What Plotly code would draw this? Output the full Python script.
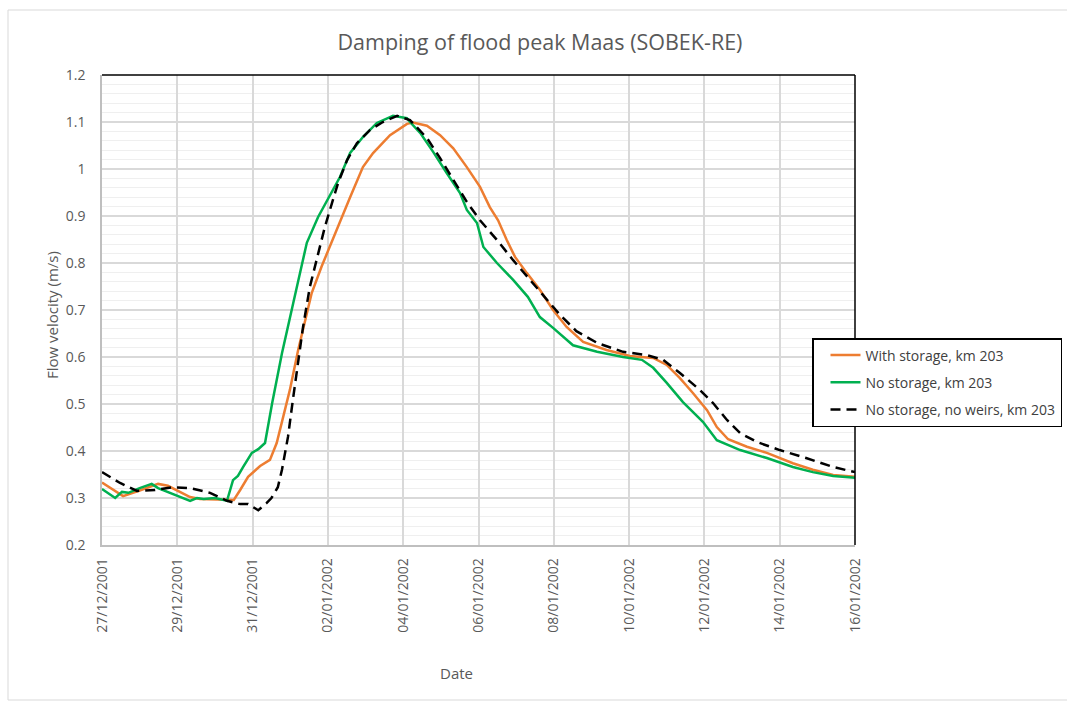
import pandas as pd
import plotly.graph_objects as go

# Flow velocity at km 203 on the Maas, SOBEK-RE runs.
# Times are given in days after 27/12/2001 00:00.
start = pd.Timestamp("2001-12-27 00:00")

storage_days = [0, 0.56, 1.0, 1.49, 1.75, 2.34, 2.6, 3.2, 3.5, 3.67, 3.88, 4.2, 4.46, 4.64,
                4.81, 4.99, 5.21, 5.39, 5.57, 5.83, 6.1, 6.32, 6.59, 6.93, 7.2, 7.65, 8.1,
                8.26, 8.63, 8.98, 9.33, 9.69, 10.04, 10.3, 10.52, 10.75, 10.97, 11.28, 11.63,
                11.98, 12.34, 12.78, 13.4, 14.02, 14.64, 15.0, 15.35, 15.7, 16.07, 16.33,
                16.63, 17.13, 17.66, 18.35, 18.88, 19.42, 20]
storage_vel = [0.333, 0.304, 0.316, 0.330, 0.326, 0.302, 0.298, 0.296, 0.296, 0.317, 0.345,
               0.368, 0.381, 0.417, 0.472, 0.530, 0.615, 0.679, 0.736, 0.792, 0.845, 0.891,
               0.940, 1.004, 1.034, 1.072, 1.096, 1.099, 1.092, 1.072, 1.044, 1.004, 0.962,
               0.919, 0.891, 0.849, 0.813, 0.779, 0.743, 0.700, 0.664, 0.632, 0.615, 0.602,
               0.598, 0.583, 0.555, 0.523, 0.487, 0.451, 0.425, 0.409, 0.396, 0.374, 0.360,
               0.349, 0.345]

nostorage_days = [0, 0.35, 0.53, 0.7, 1.0, 1.32, 1.49, 1.81, 2.12, 2.34, 2.52, 2.7, 3.0, 3.32,
                  3.48, 3.61, 3.75, 3.98, 4.15, 4.33, 4.52, 4.78, 5.08, 5.44, 5.74, 6.14,
                  6.32, 6.59, 6.93, 7.3, 7.73, 8.1, 8.18, 8.45, 8.8, 9.16, 9.51, 9.69, 9.96,
                  10.13, 10.49, 10.92, 11.31, 11.63, 11.98, 12.51, 13.15, 13.84, 14.34, 14.64,
                  15.0, 15.43, 15.96, 16.33, 16.95, 17.66, 18.35, 18.88, 19.42, 20]
nostorage_vel = [0.319, 0.300, 0.313, 0.311, 0.321, 0.330, 0.321, 0.311, 0.300, 0.294, 0.300,
                 0.298, 0.300, 0.294, 0.338, 0.347, 0.366, 0.396, 0.404, 0.417, 0.502, 0.608,
                 0.715, 0.843, 0.898, 0.955, 0.983, 1.034, 1.068, 1.098, 1.113, 1.108, 1.100,
                 1.077, 1.036, 0.991, 0.949, 0.913, 0.885, 0.834, 0.800, 0.764, 0.728, 0.685,
                 0.662, 0.625, 0.611, 0.600, 0.594, 0.577, 0.545, 0.504, 0.462, 0.423, 0.402,
                 0.385, 0.366, 0.355, 0.347, 0.343]

noweirs_days = [0, 0.48, 0.93, 1.41, 1.89, 2.34, 2.87, 3.32, 3.67, 3.88, 4.15, 4.37, 4.5, 4.67,
                4.78, 4.94, 5.07, 5.21, 5.34, 5.52, 5.71, 5.92, 6.11, 6.27, 6.51, 6.77, 7.12,
                7.46, 7.84, 8.18, 8.63, 8.98, 9.33, 9.69, 10.04, 10.49, 10.92, 11.37, 11.82,
                12.16, 12.6, 13.15, 13.84, 14.47, 14.9, 15.35, 15.88, 16.23, 16.6, 16.95,
                17.4, 18.0, 18.7, 19.42, 20]
noweirs_vel = [0.355, 0.332, 0.315, 0.317, 0.323, 0.321, 0.311, 0.294, 0.287, 0.287, 0.274,
               0.289, 0.300, 0.323, 0.360, 0.430, 0.509, 0.587, 0.664, 0.749, 0.813, 0.877,
               0.928, 0.970, 1.019, 1.055, 1.083, 1.100, 1.113, 1.104, 1.066, 1.023, 0.977,
               0.930, 0.891, 0.849, 0.806, 0.764, 0.721, 0.690, 0.655, 0.630, 0.611, 0.604,
               0.594, 0.566, 0.530, 0.502, 0.466, 0.438, 0.419, 0.402, 0.385, 0.366, 0.355]

series_names = ["With storage, km 203", "No storage, km 203", "No storage, no weirs, km 203"]
y_ticks = [0.2, 0.3, 0.4, 0.5, 0.6, 0.7, 0.8, 0.9, 1.0, 1.1, 1.2]
y_tick_labels = ["0.2", "0.3", "0.4", "0.5", "0.6", "0.7", "0.8", "0.9", "1", "1.1", "1.2"]
x_ticks = pd.date_range("2001-12-27", "2002-01-16", freq="2D")

FONT = "Open Sans"
TEXT = "#595959"


def to_time(days):
    return start + pd.to_timedelta(days, unit="D")


fig = go.Figure()
fig.add_trace(go.Scatter(x=to_time(storage_days), y=storage_vel, mode="lines",
                         name=series_names[0], legendgroup="a",
                         line=dict(color="#ED7D31", width=2.5)))
fig.add_trace(go.Scatter(x=to_time(nostorage_days), y=nostorage_vel, mode="lines",
                         name=series_names[1], legendgroup="b",
                         line=dict(color="#00B050", width=2.5)))
fig.add_trace(go.Scatter(x=to_time(noweirs_days), y=noweirs_vel, mode="lines",
                         name=series_names[2], legendgroup="c",
                         line=dict(color="#000000", width=2.5, dash="10px,6px")))

fig.update_layout(
    width=1067, height=702,
    margin=dict(l=102, r=212, t=75, b=157, autoexpand=False),
    paper_bgcolor="white", plot_bgcolor="white",
    font=dict(family=FONT, size=14, color=TEXT),
    title=dict(text="Damping of flood peak Maas (SOBEK-RE)", x=540 / 1067, xanchor="center",
               y=1 - 42 / 702, yanchor="middle", font=dict(size=21.5, color=TEXT)),
    showlegend=True,
    legend=dict(x=(812 - 102) / 753, xanchor="left", y=(545 - 338) / 470, yanchor="top",
                bordercolor="black", borderwidth=1.5, bgcolor="white",
                font=dict(size=14, color="#404040"), tracegroupgap=6,
                traceorder="grouped", indentation=12),
    xaxis=dict(type="date", range=[x_ticks[0], x_ticks[-1]], tickvals=x_ticks,
               tickformat="%d/%m/%Y", tickangle=-90, showgrid=True, gridcolor="#d9d9d9",
               gridwidth=1.5, showline=True, linecolor="#bfbfbf", linewidth=1.5,
               zeroline=False, ticks="", ticklabelstandoff=6,
               tickfont=dict(size=14, color=TEXT)),
    yaxis=dict(range=[0.2, 1.2], tickvals=y_ticks, ticktext=y_tick_labels, showgrid=True,
               gridcolor="#d9d9d9", gridwidth=1.5, showline=True, linecolor="#bfbfbf",
               linewidth=1.5, zeroline=False, ticks="", ticklabelstandoff=12,
               tickfont=dict(size=14, color=TEXT),
               minor=dict(dtick=0.02, showgrid=True, gridcolor="#efefef", gridwidth=1)),
    shapes=[
        dict(type="line", xref="paper", yref="paper", x0=0, x1=1, y0=1, y1=1,
             line=dict(color="black", width=1.5)),
        dict(type="line", xref="paper", yref="paper", x0=1, x1=1, y0=0, y1=1,
             line=dict(color="black", width=1.5)),
        dict(type="rect", xref="paper", yref="paper",
             x0=(8 - 102) / 753, x1=(1075 - 102) / 753,
             y0=(545 - 700) / 470, y1=(545 - 10) / 470,
             line=dict(color="#d9d9d9", width=1), layer="below"),
    ],
    annotations=[
        dict(text="Flow velocity (m/s)", xref="paper", yref="paper",
             x=(52 - 102) / 753, y=(545 - 315) / 470, textangle=-90, showarrow=False,
             xanchor="center", yanchor="middle", font=dict(size=15, color=TEXT)),
        dict(text="Date", xref="paper", yref="paper", x=(456 - 102) / 753,
             y=(545 - 673) / 470, showarrow=False, xanchor="center", yanchor="middle",
             font=dict(size=15, color=TEXT)),
    ],
)

fig.write_html("out.html")
